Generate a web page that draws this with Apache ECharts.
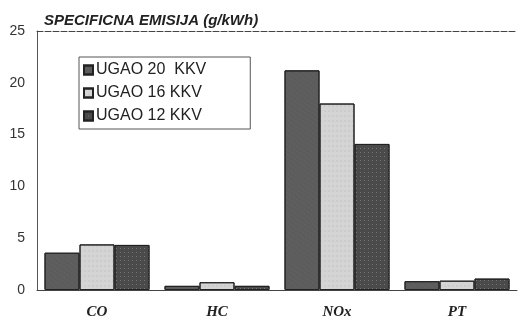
<!DOCTYPE html>
<html><head><meta charset="utf-8">
<script src="https://cdn.jsdelivr.net/npm/echarts@6/dist/echarts.min.js"></script>
<style>html,body{margin:0;padding:0;background:#fff}#c{width:519px;height:323px}</style>
</head><body><div id="c"></div>
<script>
var categories = ['CO', 'HC', 'NOx', 'PT'];
var seriesNames = ['UGAO 20  KKV', 'UGAO 16 KKV', 'UGAO 12 KKV'];
var ugao20 = [3.6, 0.4, 21.2, 0.85];
var ugao16 = [4.4, 0.75, 18.0, 0.9];
var ugao12 = [4.35, 0.4, 14.1, 1.1];
var yTicks = [0, 5, 10, 15, 20, 25];

var chart = echarts.init(document.getElementById('c'));
var colors = ['#5c5c5c', '#d4d4d4', '#4a4a4a'];
var values = [ugao20, ugao16, ugao12];
chart.setOption({
  animation: false,
  title: {
    text: 'SPECIFICNA EMISIJA (g/kWh)',
    left: 39, top: 8,
    textStyle: {fontFamily: 'Liberation Sans, Arial', fontSize: 15, fontWeight: 'bold', fontStyle: 'italic', color: '#222'}
  },
  legend: {
    left: 79, top: 57, orient: 'vertical',
    icon: 'rect',
    itemWidth: 9, itemHeight: 9, itemGap: 7,
    padding: [5, 44, 5, 4],
    borderColor: '#555', borderWidth: 1,
    textStyle: {fontFamily: 'Liberation Sans, Arial', fontSize: 16, color: '#222', padding: [0, 0, 0, -2]},
    data: seriesNames
  },
  grid: {left: 37, right: 2, top: 31, bottom: 33},
  xAxis: [{
    type: 'category', data: categories,
    axisLine: {lineStyle: {color: '#444', width: 1}},
    axisTick: {show: false},
    axisLabel: {fontFamily: 'Liberation Serif, Times New Roman', fontStyle: 'italic', fontWeight: 'bold', fontSize: 15, color: '#222', margin: 15}
  }, {
    type: 'category', data: categories, position: 'top',
    axisLine: {show: true, lineStyle: {color: '#444', width: 1, type: [6, 2]}},
    axisTick: {show: false}, axisLabel: {show: false}
  }],
  yAxis: {
    type: 'value', min: 0, max: 25, interval: 5,
    axisLine: {show: true, lineStyle: {color: '#555'}},
    axisTick: {show: false},
    splitLine: {show: false},
    axisLabel: {fontFamily: 'Liberation Sans, Arial', fontSize: 14, color: '#333', margin: 12}
  },
  series: seriesNames.map(function (n, i) {
    return {
      name: n, type: 'bar', data: values[i],
      barGap: '0%', barCategoryGap: '12.5%',
      itemStyle: {color: colors[i], borderColor: '#222', borderWidth: 1,
        decal: i === 1 ? {symbol: 'rect', symbolSize: 0.4, color: 'rgba(90,90,90,0.35)', dashArrayX: [2, 2], dashArrayY: [2, 3]} :
               i === 2 ? {symbol: 'rect', symbolSize: 1, color: 'rgba(200,200,200,0.35)', dashArrayX: [1, 3], dashArrayY: [1, 3]} :
               {symbol: 'rect', symbolSize: 0.6, color: 'rgba(160,160,160,0.35)', dashArrayX: [1, 2], dashArrayY: [2, 2], rotation: 0.6}}
    };
  })
});
</script></body></html>
